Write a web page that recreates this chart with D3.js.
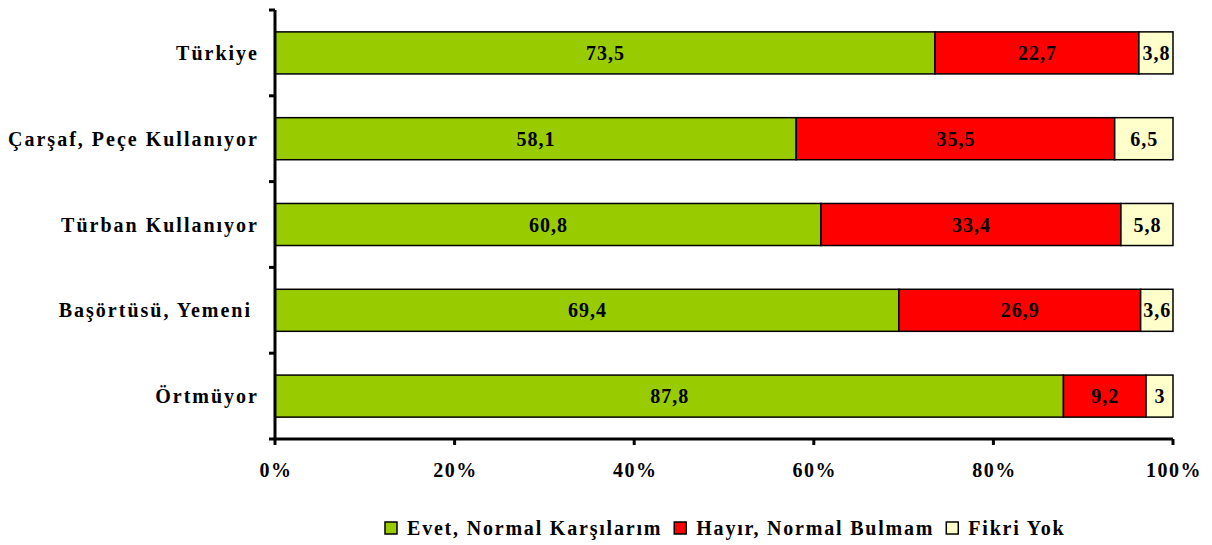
<!DOCTYPE html>
<html><head><meta charset="utf-8">
<script src="https://cdn.jsdelivr.net/npm/d3@7"></script>
<style>
body{margin:0;background:#fff;}
text{font-family:"Liberation Serif","Times New Roman",serif;font-weight:bold;fill:#000;}
</style></head>
<body><svg id="c" width="1212" height="545"></svg>
<script>
const categories = ["Türkiye","Çarşaf, Peçe Kullanıyor","Türban Kullanıyor","Başörtüsü, Yemeni ","Örtmüyor"];
const seriesNames = ["Evet, Normal Karşılarım","Hayır, Normal Bulmam","Fikri Yok"];
const evet = [73.5,58.1,60.8,69.4,87.8];
const hayir = [22.7,35.5,33.4,26.9,9.2];
const fikri = [3.8,6.5,5.8,3.6,3];
const xTicks = [0,20,40,60,80,100];
const colors = ["#99CC00","#FF0000","#FFFFCC"];

(function(){
const svg = d3.select("#c");
const pL = 275, pR = 1173, pT = 10, pB = 439;
const x = d3.scaleLinear().domain([0,100]).range([pL,pR]);
const y = d3.scaleBand().domain(categories).range([pT,pB]).paddingInner(0.51).paddingOuter(0.255);

const rows = categories.map((c,i)=>{
  const vals=[evet[i],hayir[i],fikri[i]];
  const tot=d3.sum(vals);
  let acc=0;
  return vals.map((v,j)=>{const s=acc/tot*100; acc+=v; return {cat:c,v,j,x0:s,x1:acc/tot*100};});
});

const g = svg.append("g");
rows.forEach(r=>{
  r.forEach(d=>{
    g.append("rect").attr("x",x(d.x0)).attr("y",y(d.cat))
      .attr("width",x(d.x1)-x(d.x0)).attr("height",y.bandwidth())
      .attr("fill",colors[d.j]).attr("stroke","#000").attr("stroke-width",1.5);
    g.append("text").attr("x",(x(d.x0)+x(d.x1))/2+0.5).attr("y",y(d.cat)+y.bandwidth()/2)
      .attr("text-anchor","middle").attr("dominant-baseline","central")
      .style("font-size","20px").style("letter-spacing","1px").text(String(d.v).replace(".",","));
  });
});

// y axis
const step = (pB-pT)/categories.length;
svg.append("line").attr("x1",pL).attr("x2",pL).attr("y1",pT).attr("y2",pB)
  .attr("stroke","#000").attr("stroke-width",3);
for(let i=0;i<=categories.length;i++){
  svg.append("line").attr("x1",pL-6).attr("x2",pL).attr("y1",pT+i*step).attr("y2",pT+i*step)
    .attr("stroke","#000").attr("stroke-width",3);
}
categories.forEach(c=>{
  svg.append("text").attr("x",259).attr("y",y(c)+y.bandwidth()/2)
    .attr("text-anchor","end").attr("dominant-baseline","central")
    .style("font-size","20px").style("letter-spacing","2px").style("white-space","pre").text(c);
});

// x axis
svg.append("line").attr("x1",pL).attr("x2",pR).attr("y1",pB).attr("y2",pB)
  .attr("stroke","#000").attr("stroke-width",3);
xTicks.forEach(t=>{
  svg.append("line").attr("x1",x(t)).attr("x2",x(t)).attr("y1",pB).attr("y2",pB+6)
    .attr("stroke","#000").attr("stroke-width",3);
  svg.append("text").attr("x",x(t)+1).attr("y",470).attr("text-anchor","middle")
    .attr("dominant-baseline","central").style("font-size","20px").style("letter-spacing","1.5px")
    .text(t+"%");
});

// legend
const lg = svg.append("g");
let lx = 385;
seriesNames.forEach((n,i)=>{
  lg.append("rect").attr("x",lx).attr("y",522).attr("width",12).attr("height",12)
    .attr("fill",colors[i]).attr("stroke","#000").attr("stroke-width",1.5);
  const t = lg.append("text").attr("x",lx+22).attr("y",528).attr("dominant-baseline","central")
    .style("font-size","20px").style("letter-spacing","1.8px").text(n);
  lx += 22 + t.node().getComputedTextLength() + 12;
});
})();
</script></body></html>
